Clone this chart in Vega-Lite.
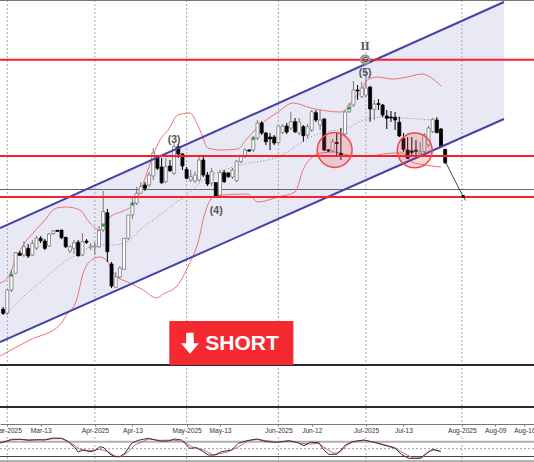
{
"$schema":"https://vega.github.io/schema/vega-lite/v6.json",
"width":534,"height":462,"padding":0,"autosize":{"type":"none"},
"background":"#ffffff","view":{"stroke":null},
"datasets":{
"channel":[{"i":-1.75,"t":228,"b":342},{"i":119.1,"t":2,"b":119}],
"grid":[{"i":0,"a":0,"b":424},{"i":0,"a":437,"b":462},{"i":21,"a":0,"b":424},{"i":21,"a":437,"b":462},{"i":43,"a":0,"b":424},{"i":43,"a":437,"b":462},{"i":65,"a":0,"b":424},{"i":65,"a":437,"b":462},{"i":86,"a":0,"b":424},{"i":86,"a":437,"b":462},{"i":109,"a":0,"b":424},{"i":109,"a":437,"b":462}],
"upper":[{"i":-1.75,"p":283},{"i":0.25,"p":277},{"i":2.2,"p":257},{"i":3.8,"p":245},{"i":6.2,"p":233},{"i":8.6,"p":222},{"i":11.8,"p":208},{"i":14.2,"p":207},{"i":17.4,"p":210},{"i":19.8,"p":223},{"i":22.2,"p":230},{"i":24.6,"p":217},{"i":27.8,"p":211},{"i":30.2,"p":205},{"i":32.6,"p":183},{"i":35,"p":155},{"i":36.6,"p":140},{"i":38.6,"p":130},{"i":40.9,"p":115},{"i":43.8,"p":113},{"i":45.3,"p":122},{"i":46.5,"p":133},{"i":48.1,"p":148},{"i":51.2,"p":150},{"i":55.3,"p":149},{"i":57.2,"p":140},{"i":60.1,"p":127},{"i":64.9,"p":112},{"i":68.5,"p":103},{"i":72.8,"p":108},{"i":80,"p":112},{"i":81.7,"p":107},{"i":83.4,"p":97},{"i":84.6,"p":93},{"i":86.3,"p":80},{"i":88.7,"p":77},{"i":92.5,"p":79},{"i":95.9,"p":77},{"i":99.5,"p":74},{"i":101.4,"p":77},{"i":104,"p":86}],
"lower":[{"i":-1.75,"p":356},{"i":5.4,"p":340},{"i":12.6,"p":325},{"i":14.2,"p":315},{"i":16.6,"p":300},{"i":18.2,"p":273},{"i":20.2,"p":260},{"i":22.2,"p":257},{"i":23.8,"p":260},{"i":25.8,"p":275},{"i":29.4,"p":283},{"i":32.6,"p":290},{"i":35.8,"p":298},{"i":37.4,"p":294},{"i":40.9,"p":285},{"i":43.5,"p":265},{"i":45.7,"p":243},{"i":47.4,"p":213},{"i":49.3,"p":197},{"i":51.7,"p":195},{"i":57.7,"p":194},{"i":60.1,"p":202},{"i":64.9,"p":197},{"i":69,"p":192},{"i":70.9,"p":170},{"i":73.8,"p":155},{"i":75.2,"p":153},{"i":78.6,"p":152},{"i":83.1,"p":156},{"i":87,"p":156},{"i":90.1,"p":154},{"i":93,"p":153},{"i":94.9,"p":153},{"i":97,"p":162},{"i":100.2,"p":165},{"i":104,"p":167}],
"middle":[{"i":0,"p":313},{"i":3.8,"p":297},{"i":8.6,"p":280},{"i":12.6,"p":265},{"i":17.4,"p":253},{"i":21.4,"p":245},{"i":25.4,"p":245},{"i":28.6,"p":242},{"i":32.6,"p":227},{"i":37.4,"p":213},{"i":40.9,"p":201},{"i":42.6,"p":197},{"i":46.2,"p":183},{"i":55.8,"p":165},{"i":64.9,"p":157},{"i":72.8,"p":137},{"i":76.2,"p":132},{"i":81.7,"p":128},{"i":83.9,"p":123},{"i":86.3,"p":119},{"i":90.1,"p":117},{"i":94.9,"p":118},{"i":102.1,"p":120}],
"candles":[
{"i":-1,"a":309.3,"b":313.3,"h":307,"l":315,"d":"down"},
{"i":0,"a":290,"b":313,"h":289,"l":315,"d":"up"},
{"i":1,"a":275,"b":290,"h":270,"l":292,"d":"up"},
{"i":2,"a":252.7,"b":273.3,"h":252,"l":274,"d":"up"},
{"i":3,"a":253.3,"b":255.3,"h":251,"l":256,"d":"down"},
{"i":4,"a":246.7,"b":255,"h":241,"l":257,"d":"up"},
{"i":5,"a":248.3,"b":256,"h":244,"l":258,"d":"down"},
{"i":6,"a":243.3,"b":255,"h":240,"l":256,"d":"up"},
{"i":7,"a":238,"b":248,"h":236,"l":250,"d":"up"},
{"i":8,"a":238.3,"b":240.7,"h":236,"l":243,"d":"down"},
{"i":9,"a":241,"b":248.3,"h":239,"l":250,"d":"down"},
{"i":10,"a":234,"b":246,"h":233,"l":247,"d":"up"},
{"i":11,"a":231,"b":233.5,"h":230,"l":235,"d":"up"},
{"i":12,"a":230.3,"b":231.3,"h":230,"l":232,"d":"down"},
{"i":13,"a":230,"b":237.7,"h":230,"l":239,"d":"down"},
{"i":14,"a":237.3,"b":246.7,"h":237,"l":248,"d":"down"},
{"i":15,"a":246.7,"b":251,"h":245,"l":253,"d":"up"},
{"i":16,"a":242.7,"b":248.3,"h":240,"l":254,"d":"up"},
{"i":17,"a":242.3,"b":256,"h":240,"l":256,"d":"down"},
{"i":18,"a":241.7,"b":255,"h":233,"l":256,"d":"up"},
{"i":19,"a":241,"b":242.3,"h":239,"l":244,"d":"down"},
{"i":20,"a":246,"b":247.3,"h":243,"l":250,"d":"up"},
{"i":21,"a":246,"b":247,"h":242,"l":255,"d":"up"},
{"i":22,"a":230.7,"b":246.7,"h":226,"l":248,"d":"up"},
{"i":23,"a":211.7,"b":230,"h":191,"l":232,"d":"up"},
{"i":24,"a":212.7,"b":251.7,"h":209,"l":262,"d":"down"},
{"i":25,"a":264,"b":286,"h":262,"l":288,"d":"down"},
{"i":26,"a":276.7,"b":287.3,"h":272,"l":288,"d":"up"},
{"i":27,"a":268,"b":277,"h":266,"l":279,"d":"up"},
{"i":28,"a":238.3,"b":269.3,"h":238,"l":270,"d":"up"},
{"i":29,"a":215,"b":238.3,"h":215,"l":240,"d":"up"},
{"i":30,"a":203.3,"b":215,"h":198,"l":219,"d":"up"},
{"i":31,"a":193.3,"b":203.3,"h":187,"l":205,"d":"up"},
{"i":32,"a":186.7,"b":193.3,"h":182,"l":194,"d":"up"},
{"i":33,"a":185,"b":188.3,"h":182,"l":191,"d":"down"},
{"i":34,"a":175,"b":185,"h":172,"l":187,"d":"up"},
{"i":35,"a":153,"b":176,"h":148,"l":180,"d":"up"},
{"i":36,"a":157.7,"b":168.3,"h":157,"l":170,"d":"down"},
{"i":37,"a":167,"b":182.7,"h":158,"l":184,"d":"down"},
{"i":38,"a":166.7,"b":181.7,"h":158,"l":183,"d":"up"},
{"i":39,"a":166,"b":170.7,"h":160,"l":172,"d":"down"},
{"i":40,"a":146.7,"b":173.3,"h":143,"l":175,"d":"up"},
{"i":41,"a":146.7,"b":154,"h":144,"l":158,"d":"down"},
{"i":42,"a":154,"b":166,"h":153,"l":170,"d":"down"},
{"i":43,"a":169.3,"b":178.3,"h":167,"l":179,"d":"down"},
{"i":44,"a":176.7,"b":180,"h":170,"l":182,"d":"up"},
{"i":45,"a":175,"b":181,"h":171.7,"l":183,"d":"up"},
{"i":46,"a":160,"b":180,"h":157,"l":182,"d":"up"},
{"i":47,"a":160,"b":175,"h":157,"l":177,"d":"down"},
{"i":48,"a":175,"b":184,"h":172,"l":186,"d":"down"},
{"i":49,"a":171.7,"b":183,"h":168,"l":186,"d":"up"},
{"i":50,"a":182.7,"b":196,"h":182,"l":198,"d":"down"},
{"i":51,"a":172.7,"b":195,"h":170,"l":197,"d":"up"},
{"i":52,"a":172.7,"b":181.7,"h":170,"l":183,"d":"down"},
{"i":53,"a":173,"b":176.7,"h":172,"l":178,"d":"down"},
{"i":54,"a":170,"b":177,"h":168,"l":179,"d":"up"},
{"i":55,"a":161,"b":180.7,"h":160,"l":182,"d":"up"},
{"i":56,"a":156,"b":161.7,"h":155,"l":163,"d":"up"},
{"i":57,"a":150,"b":156,"h":148,"l":158,"d":"up"},
{"i":58,"a":150,"b":151,"h":149,"l":152,"d":"down"},
{"i":59,"a":138,"b":150,"h":136,"l":152,"d":"up"},
{"i":60,"a":123,"b":138,"h":120,"l":140,"d":"up"},
{"i":61,"a":123,"b":133,"h":121,"l":135,"d":"down"},
{"i":62,"a":133,"b":141.7,"h":132,"l":145,"d":"down"},
{"i":63,"a":137,"b":139,"h":133,"l":150,"d":"down"},
{"i":64,"a":137,"b":143,"h":135,"l":145,"d":"down"},
{"i":65,"a":126,"b":142.7,"h":126,"l":144,"d":"up"},
{"i":66,"a":126,"b":132.7,"h":124,"l":134,"d":"up"},
{"i":67,"a":126,"b":132,"h":123,"l":134,"d":"down"},
{"i":68,"a":121.7,"b":128,"h":112,"l":130,"d":"up"},
{"i":69,"a":121.7,"b":131.7,"h":118,"l":133,"d":"down"},
{"i":70,"a":122,"b":133,"h":118,"l":135,"d":"up"},
{"i":71,"a":126.7,"b":135.7,"h":125,"l":141.7,"d":"down"},
{"i":72,"a":126.7,"b":135,"h":124,"l":138,"d":"up"},
{"i":73,"a":111.7,"b":130,"h":110,"l":132,"d":"up"},
{"i":74,"a":112.7,"b":120,"h":110,"l":122,"d":"down"},
{"i":75,"a":120,"b":125,"h":110,"l":130,"d":"up"},
{"i":76,"a":119,"b":150,"h":118,"l":151,"d":"down"},
{"i":77,"a":150,"b":151,"h":149,"l":152,"d":"down"},
{"i":78,"a":141.7,"b":151,"h":139,"l":152,"d":"up"},
{"i":79,"a":142.5,"b":143.5,"h":133,"l":156,"d":"down"},
{"i":80,"a":153.5,"b":155,"h":128,"l":160,"d":"down"},
{"i":81,"a":112,"b":134,"h":110,"l":135,"d":"up"},
{"i":82,"a":105,"b":111.7,"h":103,"l":113,"d":"up"},
{"i":83,"a":90,"b":105,"h":81,"l":107,"d":"up"},
{"i":84,"a":90,"b":91,"h":85,"l":100,"d":"down"},
{"i":85,"a":88,"b":96.7,"h":82,"l":98,"d":"up"},
{"i":86,"a":88,"b":95,"h":70,"l":97,"d":"up"},
{"i":87,"a":87,"b":109,"h":86,"l":121.7,"d":"down"},
{"i":88,"a":104,"b":109.3,"h":100,"l":120,"d":"up"},
{"i":89,"a":103.5,"b":104.5,"h":99,"l":110,"d":"down"},
{"i":90,"a":105,"b":115,"h":104,"l":117,"d":"down"},
{"i":91,"a":116,"b":118.3,"h":110,"l":129,"d":"down"},
{"i":92,"a":117,"b":118,"h":111,"l":122,"d":"down"},
{"i":93,"a":117.3,"b":120,"h":112,"l":130,"d":"down"},
{"i":94,"a":122.3,"b":136,"h":116.7,"l":137,"d":"down"},
{"i":95,"a":138.3,"b":149.3,"h":133,"l":152,"d":"down"},
{"i":96,"a":150,"b":158.3,"h":137,"l":158.5,"d":"down"},
{"i":97,"a":151,"b":152.3,"h":137,"l":156,"d":"down"},
{"i":98,"a":150.2,"b":151.2,"h":140,"l":157,"d":"down"},
{"i":99,"a":151.7,"b":153.3,"h":142,"l":155,"d":"up"},
{"i":100,"a":135,"b":151.7,"h":133,"l":153,"d":"up"},
{"i":101,"a":128,"b":145,"h":126,"l":147,"d":"up"},
{"i":102,"a":119.3,"b":131.7,"h":118,"l":133,"d":"up"},
{"i":103,"a":120,"b":132.7,"h":117,"l":133,"d":"down"},
{"i":104,"a":129,"b":146.7,"h":128,"l":147,"d":"down"},
{"i":105,"a":149.3,"b":162.7,"h":149,"l":164,"d":"down"}],
"stochMain":[{"i":-1.75,"p":443},{"i":-0.55,"p":441.7},{"i":1.05,"p":439.3},{"i":3.05,"p":439.3},{"i":5.05,"p":440.3},{"i":7.04,"p":439.7},{"i":9.04,"p":440},{"i":11.04,"p":438},{"i":13.04,"p":438.3},{"i":14.6,"p":441.7},{"i":16,"p":446.7},{"i":17,"p":452},{"i":18.2,"p":450},{"i":19.8,"p":451.7},{"i":21,"p":450.7},{"i":22.2,"p":446.7},{"i":23.2,"p":447.7},{"i":24.6,"p":454},{"i":25.8,"p":456.7},{"i":27,"p":456.7},{"i":28.2,"p":453.3},{"i":29.8,"p":443.3},{"i":31.4,"p":440.3},{"i":33.8,"p":438.3},{"i":36.6,"p":441},{"i":38.6,"p":441},{"i":40.2,"p":439},{"i":41.8,"p":440},{"i":43.8,"p":448.3},{"i":45.4,"p":447.7},{"i":47,"p":451.7},{"i":48.2,"p":455},{"i":49.8,"p":455},{"i":51.4,"p":451.7},{"i":53.8,"p":450},{"i":55.4,"p":443.3},{"i":57.4,"p":440.7},{"i":59.8,"p":439},{"i":62.3,"p":441.7},{"i":64.7,"p":442.3},{"i":67.5,"p":440.7},{"i":69.5,"p":442.3},{"i":71.1,"p":445.7},{"i":72.7,"p":442.3},{"i":74.7,"p":442.7},{"i":75.9,"p":450},{"i":77.1,"p":454.3},{"i":79.1,"p":454.3},{"i":81.1,"p":445},{"i":82.7,"p":441.7},{"i":85.5,"p":440},{"i":87.9,"p":442.3},{"i":90.3,"p":445},{"i":93,"p":448.3},{"i":94.7,"p":455},{"i":96.3,"p":458.3},{"i":99,"p":458.3},{"i":100.7,"p":452.7},{"i":102,"p":449.3},{"i":103.9,"p":451.3}],
"stochSignal":[{"i":-1.75,"p":442.3},{"i":1.05,"p":440},{"i":3.05,"p":439.3},{"i":7.04,"p":440},{"i":11.04,"p":438.7},{"i":13.4,"p":438.7},{"i":15.4,"p":443.3},{"i":17.4,"p":449.3},{"i":19.8,"p":450.7},{"i":22.2,"p":449.3},{"i":24.2,"p":451.7},{"i":25.8,"p":456},{"i":27.4,"p":456.7},{"i":29,"p":451.7},{"i":30.6,"p":445},{"i":33.8,"p":439},{"i":36.6,"p":440.3},{"i":39.8,"p":440},{"i":42.2,"p":441.7},{"i":44.6,"p":447.3},{"i":47,"p":450},{"i":49.4,"p":455},{"i":52.6,"p":452.3},{"i":55,"p":447.7},{"i":57.8,"p":441},{"i":59.8,"p":439.3},{"i":62.3,"p":440.7},{"i":64.7,"p":442},{"i":67.5,"p":441},{"i":70.3,"p":443.3},{"i":72.7,"p":444},{"i":74.7,"p":443.3},{"i":76.3,"p":448.3},{"i":78.3,"p":453.3},{"i":79.9,"p":451.7},{"i":81.5,"p":445},{"i":83.1,"p":441.7},{"i":85.5,"p":440.3},{"i":88.7,"p":442.7},{"i":92.7,"p":447.3},{"i":95.1,"p":453.3},{"i":97.5,"p":458.3},{"i":99.5,"p":457.7},{"i":101.1,"p":451.7},{"i":102.3,"p":450},{"i":104,"p":451.7}]
},
"layer":[
{"data":{"name":"channel"},"mark":{"type":"area","color":"#e8e9f4","orient":"vertical"},
 "encoding":{"x":{"field":"i","type":"quantitative","title":null,"scale":{"domain":[-1.75,126.3],"nice":false,"zero":false,"padding":0},
   "axis":{"values":[0,8,21,30,43,51,65,73,86,95,109,117,124],"offset":-38,"grid":false,"title":null,"domainColor":"#777777","domainWidth":1,"tickColor":"#777777","tickSize":2,"labelFontSize":6.6,"labelFont":"Liberation Sans","labelColor":"#333333","labelPadding":1,"labelOverlap":false,"labelFlush":false,"labelBound":false,
   "labelExpr":"{'0':'Mar-2025','8':'Mar-13','21':'Apr-2025','30':'Apr-13','43':'May-2025','51':'May-13','65':'Jun-2025','73':'Jun-12','86':'Jul-2025','95':'Jul-13','109':'Aug-2025','117':'Aug-09','124':'Aug-16'}[datum.value]"}},
  "y":{"field":"t","type":"quantitative","title":null,"axis":null,"scale":{"domain":[462,0],"nice":false,"zero":false,"padding":0}},"y2":{"field":"b"}}},
{"data":{"name":"grid"},"mark":{"type":"rule","color":"#a8a8a8","strokeWidth":1,"strokeDash":[2,2]},
 "encoding":{"x":{"field":"i","type":"quantitative"},"y":{"field":"a","type":"quantitative","axis":null},"y2":{"field":"b"}}},
{"data":{"values":[{"p":0.5}]},"mark":{"type":"rule","color":"#777777","strokeWidth":1},"encoding":{"y":{"field":"p","type":"quantitative","axis":null}}},
{"data":{"values":[{"p":189.5},{"p":461}]},"mark":{"type":"rule","color":"#666666","strokeWidth":1},"encoding":{"y":{"field":"p","type":"quantitative","axis":null}}},
{"data":{"values":[{"p":365},{"p":407}]},"mark":{"type":"rule","color":"#2a2a2a","strokeWidth":2},"encoding":{"y":{"field":"p","type":"quantitative","axis":null}}},
{"data":{"values":[{"p":441.7}]},"mark":{"type":"rule","color":"#b0b0b0","strokeWidth":2},"encoding":{"y":{"field":"p","type":"quantitative","axis":null}}},
{"data":{"values":[{"p":448.7}]},"mark":{"type":"rule","color":"#999999","strokeWidth":1,"strokeDash":[2,2]},"encoding":{"y":{"field":"p","type":"quantitative","axis":null}}},
{"data":{"values":[{"p":456.5}]},"mark":{"type":"rule","color":"#444444","strokeWidth":1},"encoding":{"y":{"field":"p","type":"quantitative","axis":null}}},
{"data":{"name":"upper"},"mark":{"type":"line","color":"#ee7272","strokeWidth":1,"interpolate":"monotone"},"encoding":{"x":{"field":"i","type":"quantitative"},"y":{"field":"p","type":"quantitative","axis":null}}},
{"data":{"name":"lower"},"mark":{"type":"line","color":"#ee7272","strokeWidth":1,"interpolate":"monotone"},"encoding":{"x":{"field":"i","type":"quantitative"},"y":{"field":"p","type":"quantitative","axis":null}}},
{"data":{"name":"middle"},"mark":{"type":"line","color":"#8a8a8a","strokeWidth":1,"strokeDash":[1,2],"interpolate":"monotone"},"encoding":{"x":{"field":"i","type":"quantitative"},"y":{"field":"p","type":"quantitative","axis":null}}},
{"data":{"name":"candles"},"mark":{"type":"rule","strokeWidth":1},
 "encoding":{"x":{"field":"i","type":"quantitative"},"y":{"field":"h","type":"quantitative","axis":null},"y2":{"field":"l"},
  "color":{"field":"d","type":"nominal","legend":null,"scale":{"domain":["up","down"],"range":["#777777","#000000"]}}}},
{"data":{"name":"candles"},"mark":{"type":"bar","orient":"vertical","size":3,"strokeWidth":0.8},
 "encoding":{"x":{"field":"i","type":"quantitative"},"y":{"field":"a","type":"quantitative","axis":null},"y2":{"field":"b"},
  "fill":{"field":"d","type":"nominal","legend":null,"scale":{"domain":["up","down"],"range":["#ffffff","#000000"]}},
  "stroke":{"field":"d","type":"nominal","legend":null,"scale":{"domain":["up","down"],"range":["#777777","#000000"]}}}},
{"data":{"values":[{"i":1,"p":275},{"i":23,"p":225},{"i":30,"p":204},{"i":59,"p":138.5},{"i":82,"p":108}]},"mark":{"type":"point","shape":"circle","filled":true,"color":"#3f9a52","size":14,"opacity":1},"encoding":{"x":{"field":"i","type":"quantitative"},"y":{"field":"p","type":"quantitative","axis":null}}},
{"data":{"name":"channel"},"mark":{"type":"line","color":"#4343a8","strokeWidth":2},"encoding":{"x":{"field":"i","type":"quantitative"},"y":{"field":"t","type":"quantitative","axis":null}}},
{"data":{"name":"channel"},"mark":{"type":"line","color":"#4343a8","strokeWidth":2},"encoding":{"x":{"field":"i","type":"quantitative"},"y":{"field":"b","type":"quantitative","axis":null}}},
{"data":{"values":[{"p":59.7},{"p":156},{"p":197}]},"mark":{"type":"rule","color":"#f5222d","strokeWidth":2},"encoding":{"y":{"field":"p","type":"quantitative","axis":null}}},
{"data":{"values":[{"i":78.5,"p":150},{"i":97.7,"p":150.4}]},"mark":{"type":"point","shape":"circle","filled":true,"size":1219,"fill":"#ee3b45","fillOpacity":0.2,"stroke":"#ee4a4a","strokeWidth":1.5,"strokeOpacity":1},"encoding":{"x":{"field":"i","type":"quantitative"},"y":{"field":"p","type":"quantitative","axis":null}}},
{"data":{"values":[{"i":105.2,"p":163},{"i":109.3,"p":196.5},{"i":109.9,"p":200.5}]},"mark":{"type":"line","color":"#444444","strokeWidth":1},"encoding":{"x":{"field":"i","type":"quantitative"},"y":{"field":"p","type":"quantitative","axis":null}}},
{"data":{"values":[{"i":109.3,"p":196.5}]},"mark":{"type":"point","shape":"square","filled":true,"color":"#000000","size":9,"opacity":1},"encoding":{"x":{"field":"i","type":"quantitative"},"y":{"field":"p","type":"quantitative","axis":null}}},
{"data":{"values":[{"i":85.8,"p":59.5}]},"mark":{"type":"point","shape":"circle","filled":false,"color":"#999999","size":64,"strokeWidth":2.5,"opacity":1},"encoding":{"x":{"field":"i","type":"quantitative"},"y":{"field":"p","type":"quantitative","axis":null}}},
{"data":{"values":[{"i":85.8,"p":59.5,"label":"G"}]},"mark":{"type":"text","font":"Liberation Sans","fontWeight":"bold","fontSize":8,"color":"#555555","baseline":"middle","align":"center"},"encoding":{"x":{"field":"i","type":"quantitative"},"y":{"field":"p","type":"quantitative","axis":null},"text":{"field":"label"}}},
{"data":{"values":[{"i":85.8,"p":46,"label":"II"}]},"mark":{"type":"text","font":"Liberation Serif","fontWeight":"bold","fontSize":12,"color":"#555555","baseline":"middle","align":"center"},"encoding":{"x":{"field":"i","type":"quantitative"},"y":{"field":"p","type":"quantitative","axis":null},"text":{"field":"label"}}},
{"data":{"values":[{"i":85.8,"p":72.5,"label":"(5)"},{"i":40,"p":139.5,"label":"(3)"},{"i":50.1,"p":211,"label":"(4)"}]},"mark":{"type":"text","font":"Liberation Sans","fontWeight":"bold","fontSize":10.5,"color":"#555555","baseline":"middle","align":"center"},"encoding":{"x":{"field":"i","type":"quantitative"},"y":{"field":"p","type":"quantitative","axis":null},"text":{"field":"label"}}},
{"data":{"values":[{"a":38.85,"b":68.6,"t":321,"u":365}]},"mark":{"type":"rect","color":"#f42a30"},"encoding":{"x":{"field":"a","type":"quantitative"},"x2":{"field":"b"},"y":{"field":"t","type":"quantitative","axis":null},"y2":{"field":"u"}}},
{"data":{"values":[{"i":43.8,"p":343.3}]},"mark":{"type":"point","filled":true,"color":"#ffffff","size":324,"opacity":1,"strokeWidth":0,"shape":"M-0.42,-1.17 L0.42,-1.17 L0.42,0 L1,0 L0,1.17 L-1,0 L-0.42,0 Z"},"encoding":{"x":{"field":"i","type":"quantitative"},"y":{"field":"p","type":"quantitative","axis":null}}},
{"data":{"values":[{"i":56.3,"p":343.6,"label":"SHORT"}]},"mark":{"type":"text","font":"Liberation Sans","fontWeight":"bold","fontSize":21,"color":"#ffffff","baseline":"middle","align":"center"},"encoding":{"x":{"field":"i","type":"quantitative"},"y":{"field":"p","type":"quantitative","axis":null},"text":{"field":"label"}}},
{"data":{"name":"stochSignal"},"mark":{"type":"line","color":"#d9686e","strokeWidth":1},"encoding":{"x":{"field":"i","type":"quantitative"},"y":{"field":"p","type":"quantitative","axis":null}}},
{"data":{"name":"stochMain"},"mark":{"type":"line","color":"#333333","strokeWidth":1},"encoding":{"x":{"field":"i","type":"quantitative"},"y":{"field":"p","type":"quantitative","axis":null}}}
],
"resolve":{"scale":{"color":"independent","fill":"independent","stroke":"independent"}}
}
